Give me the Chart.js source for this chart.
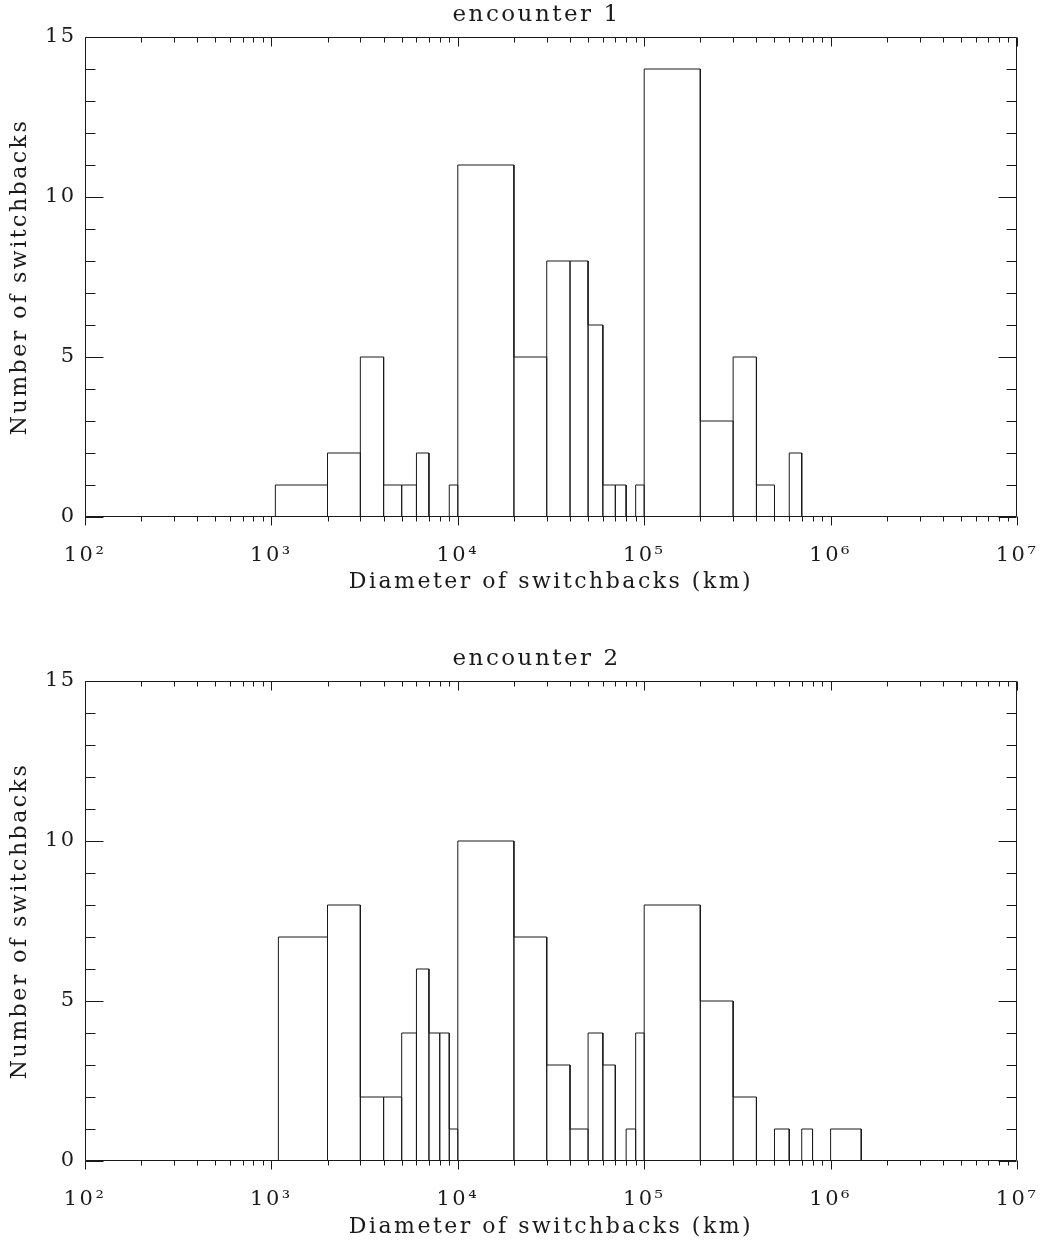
<!DOCTYPE html>
<html>
<head>
<meta charset="utf-8">
<script src="https://cdn.jsdelivr.net/npm/chart.js@4.4.1/dist/chart.umd.min.js"></script>
<style>
  html, body { margin: 0; padding: 0; background: #fff; }
  canvas { display: block; }
</style>
</head>
<body>
<canvas id="enc1" width="1040" height="622"></canvas>
<canvas id="enc2" width="1040" height="623"></canvas>
<script>
// bin edges (km) and counts
const edges1 = [1050, 2000, 3000, 4000, 5000, 6000, 7000, 8000, 9000,
                10000, 20000, 30000, 40000, 50000, 60000, 70000, 80000, 90000,
                100000, 200000, 300000, 400000, 500000, 600000, 700000];
const counts1 = [1, 2, 5, 1, 1, 2, 0, 0, 1,
                 11, 5, 8, 8, 6, 1, 1, 0, 1,
                 14, 3, 5, 1, 0, 2];

const edges2 = [1090, 2000, 3000, 4000, 5000, 6000, 7000, 8000, 9000,
                10000, 20000, 30000, 40000, 50000, 60000, 70000, 80000, 90000,
                100000, 200000, 300000, 400000, 500000, 600000, 700000, 800000, 900000,
                1000000, 1460000];
const counts2 = [7, 8, 2, 2, 4, 6, 4, 4, 1,
                 10, 7, 3, 1, 4, 3, 0, 1, 4,
                 8, 5, 2, 0, 1, 0, 1, 0, 0,
                 1];

const decades = [1e2, 1e3, 1e4, 1e5, 1e6, 1e7];
const decadeLabels = ['10\u00B2', '10\u00B3', '10\u2074', '10\u2075', '10\u2076', '10\u2077'];
const yTicks = [0, 5, 10, 15];

const FONT = 'DejaVu Serif';
const INK = '#1a1a1a';

// outline of every bin as one polyline: up the left edge, across, down the right edge
function outline(edges, counts) {
    const pts = [];
    counts.forEach((c, i) => {
        pts.push({x: edges[i], y: 0}, {x: edges[i], y: c},
                 {x: edges[i + 1], y: c}, {x: edges[i + 1], y: 0});
    });
    return pts;
}

// minor ticks 2..9 inside each decade
const xMinor = [];
decades.slice(0, -1).forEach(d => { for (let k = 2; k <= 9; k++) xMinor.push(d * k); });
const yMinor = [];
for (let v = 0; v <= 15; v++) yMinor.push(v);

const spacing = {
    id: 'spacing',
    beforeLayout(chart) { chart.ctx.letterSpacing = '2.5px'; },
    beforeDraw(chart) { chart.ctx.letterSpacing = '2.5px'; }
};

// IDL-style box with ticks on all four sides
const boxTicks = {
    id: 'boxTicks',
    afterDatasetsDraw(chart) {
        const {ctx, chartArea, scales: {x, y}} = chart;
        const L = Math.round(chartArea.left) + 0.5, R = Math.round(chartArea.right) - 0.5;
        const T = Math.round(chartArea.top) + 0.5, B = Math.round(chartArea.bottom) - 0.5;
        ctx.save();
        ctx.strokeStyle = INK;
        ctx.lineWidth = 1;
        ctx.beginPath();
        ctx.rect(L, T, R - L, B - T);
        yMinor.forEach(v => {
            const py = Math.round(y.getPixelForValue(v)) + 0.5;
            const len = v % 5 === 0 ? 18 : 10;
            ctx.moveTo(L, py); ctx.lineTo(L + len, py);
            ctx.moveTo(R, py); ctx.lineTo(R - len, py);
        });
        const xt = (v, len) => {
            const px = Math.round(x.getPixelForValue(v)) + 0.5;
            ctx.moveTo(px, B); ctx.lineTo(px, B + len);
            ctx.moveTo(px, T); ctx.lineTo(px, T + len);
        };
        xMinor.forEach(v => xt(v, 5));
        decades.forEach(v => xt(v, 9));
        ctx.stroke();
        ctx.restore();
    }
};

function makeChart(id, title, edges, counts, titlePad, xHeight, xTitlePad) {
    const ctx = document.getElementById(id).getContext('2d');
    return new Chart(ctx, {
        type: 'line',
        data: {
            datasets: [{
                data: outline(edges, counts),
                borderColor: INK,
                borderWidth: 1,
                pointRadius: 0,
                tension: 0,
                fill: false
            }]
        },
        options: {
            responsive: false,
            animation: false,
            layout: { padding: { left: 56, right: 23, top: 0, bottom: 0 } },
            plugins: {
                legend: { display: false },
                tooltip: { enabled: false },
                title: {
                    display: true,
                    text: title,
                    color: INK,
                    font: { family: FONT, size: 23, weight: 'normal', lineHeight: 1 },
                    padding: titlePad
                }
            },
            scales: {
                x: {
                    type: 'logarithmic',
                    min: 1e2, max: 1e7,
                    grid: { display: false, drawTicks: false },
                    border: { display: false },
                    afterBuildTicks: s => { s.ticks = decades.map(v => ({value: v})); },
                    afterFit: s => { s.height = xHeight; s.paddingLeft = 0; s.paddingRight = 0; },
                    ticks: {
                        autoSkip: false, maxRotation: 0, padding: 26,
                        color: INK,
                        font: { family: FONT, size: 21 },
                        callback: (v, i) => decadeLabels[i]
                    },
                    title: {
                        display: true,
                        text: 'Diameter of switchbacks (km)',
                        color: INK,
                        font: { family: FONT, size: 22, lineHeight: 1.2 },
                        padding: { top: 0, bottom: xTitlePad }
                    }
                },
                y: {
                    min: 0, max: 15,
                    grid: { display: false, drawTicks: false },
                    border: { display: false },
                    afterBuildTicks: s => { s.ticks = yTicks.map(v => ({value: v})); },
                    afterFit: s => { s.width = 29; },
                    // mirrored + far-aligned so the labels are not clipped to the narrow scale box
                    ticks: {
                        mirror: true,
                        crossAlign: 'far',
                        padding: -40,
                        color: INK,
                        font: { family: FONT, size: 21 }
                    },
                    title: {
                        display: true,
                        text: 'Number of switchbacks',
                        color: INK,
                        font: { family: FONT, size: 22, lineHeight: 1.2 },
                        padding: { top: -49, bottom: 0 }
                    }
                }
            }
        },
        plugins: [spacing, boxTicks]
    });
}

makeChart('enc1', 'encounter 1', edges1, counts1, { top: 4, bottom: 10 }, 105, 27);
makeChart('enc2', 'encounter 2', edges2, counts2, { top: 26, bottom: 10 }, 84, 5);
</script>
</body>
</html>
